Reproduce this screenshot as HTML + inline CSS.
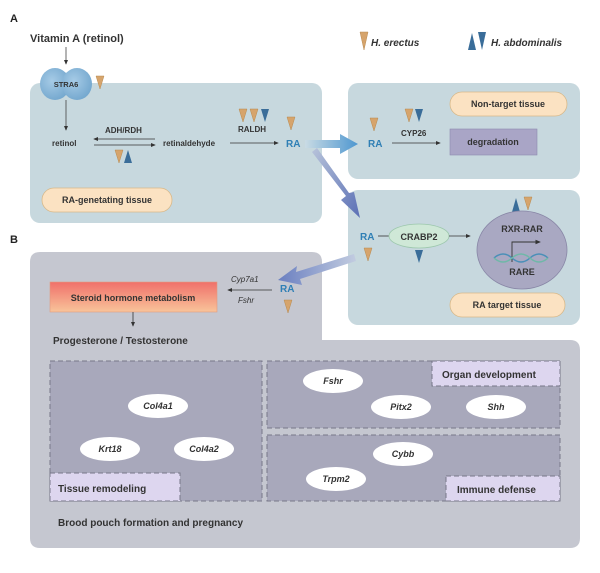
<!DOCTYPE html>
<html><head><meta charset="utf-8"><style>
body{margin:0;background:#fff;}
svg{display:block;font-family:"Liberation Sans",sans-serif;}
</style></head><body>
<svg width="600" height="573" viewBox="0 0 600 573" xmlns="http://www.w3.org/2000/svg">
<defs>
<linearGradient id="sg" x1="0" y1="0" x2="0" y2="1"><stop offset="0" stop-color="#f0706a"/><stop offset="1" stop-color="#f8c49a"/></linearGradient>
<linearGradient id="a1" x1="0" y1="0" x2="1" y2="0"><stop offset="0" stop-color="#c9dbe4"/><stop offset="1" stop-color="#4e97d0"/></linearGradient>
<linearGradient id="a2" x1="0" y1="0" x2="1" y2="1"><stop offset="0" stop-color="#b7c3da"/><stop offset="1" stop-color="#5a6fb5"/></linearGradient>
<linearGradient id="a3" x1="1" y1="0" x2="0" y2="0"><stop offset="0" stop-color="#c2cce0"/><stop offset="1" stop-color="#6a7fc0"/></linearGradient>
<radialGradient id="st" cx="0.4" cy="0.4" r="0.7"><stop offset="0" stop-color="#a6cbe6"/><stop offset="1" stop-color="#6fa4cc"/></radialGradient>
<marker id="ar" markerWidth="6" markerHeight="6" refX="5" refY="3" orient="auto"><path d="M0,0.5 L6,3 L0,5.5 z" fill="#333"/></marker>
</defs>
<g font-weight="bold" fill="#222"><text x="10" y="22" font-size="11">A</text><text x="10" y="243" font-size="11">B</text></g>
<text x="30" y="42" font-size="11" font-weight="bold" fill="#333">Vitamin A (retinol)</text>
<line x1="66" y1="47" x2="66" y2="64" stroke="#444" stroke-width="0.8" marker-end="url(#ar)"/>

<!-- boxes -->
<rect x="30" y="83" width="292" height="140" rx="10" fill="#c7d8de"/>
<rect x="348" y="83" width="232" height="96" rx="10" fill="#c7d8de"/>
<rect x="348" y="190" width="232" height="135" rx="10" fill="#c7d8de"/>
<path d="M40,252 H312 Q322,252 322,262 V340 H570 Q580,340 580,350 V538 Q580,548 570,548 H40 Q30,548 30,538 V262 Q30,252 40,252 Z" fill="#c5c7d0"/>

<!-- STRA6 -->
<ellipse cx="55" cy="84" rx="15" ry="16" fill="url(#st)"/>
<ellipse cx="77" cy="84" rx="15" ry="16" fill="url(#st)"/>
<text x="66" y="87" font-size="7.5" font-weight="bold" fill="#333" text-anchor="middle">STRA6</text>
<line x1="66" y1="100" x2="66" y2="130" stroke="#444" stroke-width="0.8" marker-end="url(#ar)"/>

<g font-size="8" fill="#333" font-weight="bold">
<text x="52" y="146">retinol</text>
<text x="105" y="133">ADH/RDH</text>
<text x="163" y="146">retinaldehyde</text>
<text x="238" y="132">RALDH</text>
<text x="401" y="136">CYP26</text>
</g>
<line x1="155" y1="139" x2="94" y2="139" stroke="#333" stroke-width="0.8" marker-end="url(#ar)"/>
<line x1="94" y1="145" x2="155" y2="145" stroke="#333" stroke-width="0.8" marker-end="url(#ar)"/>
<line x1="230" y1="143" x2="278" y2="143" stroke="#333" stroke-width="0.8" marker-end="url(#ar)"/>
<line x1="392" y1="143" x2="440" y2="143" stroke="#333" stroke-width="0.8" marker-end="url(#ar)"/>

<g font-size="10" font-weight="bold" fill="#2f7fb5">
<text x="286" y="147">RA</text><text x="368" y="147">RA</text><text x="360" y="240">RA</text><text x="280" y="292">RA</text>
</g>

<!-- big arrows -->
<path d="M305,140 L340,140 L340,134 L358,144 L340,154 L340,148 L305,148 Z" fill="url(#a1)"/>
<path d="M312,152 L346,196 L341,200 L360,218 L354,192 L349,193 L317,148 Z" fill="url(#a2)"/>
<path d="M354,254 L296,272 L297,266 L278,280 L302,285 L300,279 L356,261 Z" fill="url(#a3)"/>

<!-- triangles: tan down -->
<g fill="#d6a46c" stroke="#b88a50" stroke-width="0.5">
<path d="M96,76 h8 l-4,13 z"/>
<path d="M115,150 h8 l-4,13 z"/>
<path d="M239,109 h8 l-4,13 z"/><path d="M250,109 h8 l-4,13 z"/>
<path d="M287,117 h8 l-4,13 z"/>
<path d="M370,118 h8 l-4,13 z"/>
<path d="M405,109 h8 l-4,13 z"/>
<path d="M364,248 h8 l-4,13 z"/>
<path d="M524,197 h8 l-4,13 z"/>
<path d="M284,300 h8 l-4,13 z"/>
<path d="M360,32 h8 l-4,18 z"/>
</g>
<g fill="#3a6d99">
<path d="M261,109 h8 l-4,13 z"/>
<path d="M415,109 h8 l-4,13 z"/>
<path d="M124,163 h8 l-4,-13 z"/>
<path d="M415,250 h8 l-4,13 z"/>
<path d="M512,212 h8 l-4,-14 z"/>
<path d="M468,50 h8 l-4,-17 z"/><path d="M478,32 h8 l-4,18 z"/>
</g>
<g font-size="10" font-weight="bold" font-style="italic" fill="#333">
<text x="371" y="46">H. erectus</text><text x="491" y="46">H. abdominalis</text>
</g>

<!-- pills -->
<g stroke="#d8b98a" stroke-width="0.8" fill="#fbe2c2">
<rect x="42" y="188" width="130" height="24" rx="12"/>
<rect x="450" y="92" width="117" height="24" rx="12"/>
<rect x="450" y="293" width="115" height="24" rx="12"/>
</g>
<g font-size="9" font-weight="bold" fill="#333" text-anchor="middle">
<text x="107" y="203">RA-genetating tissue</text>
<text x="508" y="107">Non-target tissue</text>
<text x="507" y="308">RA target tissue</text>
</g>
<rect x="450" y="129" width="87" height="26" fill="#a9a5c6" stroke="#8e8ab0" stroke-width="0.6"/>
<text x="493" y="145" font-size="9" font-weight="bold" fill="#333" text-anchor="middle">degradation</text>

<!-- CRABP2 -->
<line x1="378" y1="236" x2="390" y2="236" stroke="#333" stroke-width="0.8"/>
<ellipse cx="419" cy="236" rx="30" ry="12" fill="#cfe8d7" stroke="#9cc7ac" stroke-width="0.8"/>
<text x="419" y="240" font-size="9" font-weight="bold" fill="#333" text-anchor="middle">CRABP2</text>
<line x1="449" y1="236" x2="470" y2="236" stroke="#333" stroke-width="0.8" marker-end="url(#ar)"/>
<ellipse cx="522" cy="250" rx="45" ry="39" fill="#a9a8c2" stroke="#8886a6" stroke-width="0.8"/>
<text x="522" y="232" font-size="9" font-weight="bold" fill="#333" text-anchor="middle">RXR-RAR</text>
<path d="M512,262 V242 H540" fill="none" stroke="#333" stroke-width="0.9" marker-end="url(#ar)"/>
<path d="M494,258 Q503,250 512,258 T530,258 T548,258" fill="none" stroke="#4a8fb8" stroke-width="1.5"/>
<path d="M494,258 Q503,266 512,258 T530,258 T548,258" fill="none" stroke="#6fb8a8" stroke-width="1.5"/>
<text x="522" y="275" font-size="9" font-weight="bold" fill="#333" text-anchor="middle">RARE</text>

<!-- B -->
<rect x="50" y="282" width="167" height="30" fill="url(#sg)" stroke="#e09a80" stroke-width="0.6"/>
<text x="133" y="301" font-size="9" font-weight="bold" fill="#333" text-anchor="middle">Steroid hormone metabolism</text>
<g font-size="8" font-style="italic" fill="#333"><text x="231" y="282">Cyp7a1</text><text x="238" y="303">Fshr</text></g>
<line x1="272" y1="290" x2="228" y2="290" stroke="#333" stroke-width="0.8" marker-end="url(#ar)"/>
<line x1="133" y1="312" x2="133" y2="326" stroke="#333" stroke-width="0.8" marker-end="url(#ar)"/>
<text x="53" y="344" font-size="10" font-weight="bold" fill="#333">Progesterone / Testosterone</text>

<g fill="#a8a8bb" stroke="#777788" stroke-width="1" stroke-dasharray="5,3">
<rect x="50" y="361" width="212" height="140"/>
<rect x="267" y="361" width="293" height="67"/>
<rect x="267" y="435" width="293" height="66"/>
</g>
<g fill="#ddd6ef" stroke="#777788" stroke-width="1" stroke-dasharray="5,3">
<rect x="50" y="473" width="130" height="28"/>
<rect x="432" y="361" width="128" height="25"/>
<rect x="446" y="476" width="114" height="25"/>
</g>
<g font-size="10" font-weight="bold" fill="#333">
<text x="58" y="492">Tissue remodeling</text>
<text x="442" y="378">Organ development</text>
<text x="457" y="493">Immune defense</text>
</g>
<g fill="#fff">
<ellipse cx="158" cy="406" rx="30" ry="12"/><ellipse cx="110" cy="449" rx="30" ry="12"/><ellipse cx="204" cy="449" rx="30" ry="12"/>
<ellipse cx="333" cy="381" rx="30" ry="12"/><ellipse cx="401" cy="407" rx="30" ry="12"/><ellipse cx="496" cy="407" rx="30" ry="12"/>
<ellipse cx="403" cy="454" rx="30" ry="12"/><ellipse cx="336" cy="479" rx="30" ry="12"/>
</g>
<g font-size="9" font-style="italic" font-weight="bold" fill="#333" text-anchor="middle">
<text x="158" y="409">Col4a1</text><text x="110" y="452">Krt18</text><text x="204" y="452">Col4a2</text>
<text x="333" y="384">Fshr</text><text x="401" y="410">Pitx2</text><text x="496" y="410">Shh</text>
<text x="403" y="457">Cybb</text><text x="336" y="482">Trpm2</text>
</g>
<text x="58" y="526" font-size="10" font-weight="bold" fill="#333">Brood pouch formation and pregnancy</text>
</svg>
</body></html>
